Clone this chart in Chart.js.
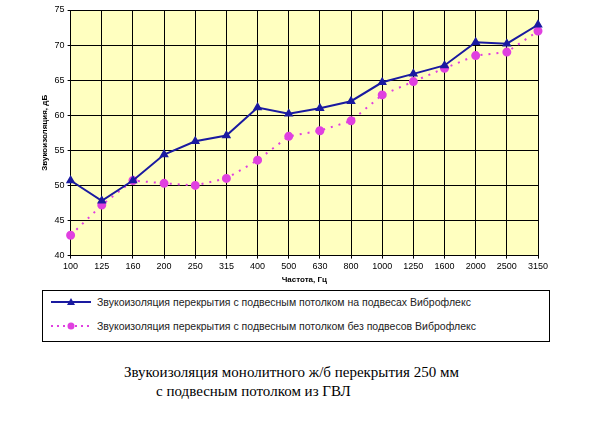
<!DOCTYPE html>
<html><head><meta charset="utf-8">
<script src="https://cdn.jsdelivr.net/npm/chart.js@4"></script>
<style>
body{margin:0;background:#fff;width:600px;height:435px;position:relative;font-family:Arial,"Liberation Sans",sans-serif}
#wrap{position:absolute;left:0;top:0;width:600px;height:285px}
#legend{position:absolute;left:42px;top:290px;width:506px;height:50px;border:1px solid #000;font-size:10.5px;color:#222}
.item{position:absolute;left:8px;display:flex;align-items:center}
#cap{position:absolute;left:0;top:363px;width:600px;font-family:"Liberation Serif","DejaVu Serif",serif;font-size:15px;line-height:19px;color:#000}
</style></head><body>
<div id="wrap"><canvas id="c" width="600" height="285"></canvas></div>
<div id="legend">
<div class="item" style="top:5px"><svg width="40" height="10"><line x1="0" y1="5" x2="40" y2="5" stroke="#1a1aa0" stroke-width="2"/><polygon points="20,1 24,8 16,8" fill="#1a1aa0"/></svg><span style="margin-left:6px">Звукоизоляция перекрытия с подвесным потолком на подвесах Виброфлекс</span></div>
<div class="item" style="top:29px"><svg width="40" height="10"><line x1="0" y1="5" x2="40" y2="5" stroke="#e040e0" stroke-width="2" stroke-dasharray="2,4"/><circle cx="20" cy="5" r="3.5" fill="#e040e0"/></svg><span style="margin-left:6px">Звукоизоляция перекрытия с подвесным потолком без подвесов Виброфлекс</span></div>
</div>
<div id="cap"><div style="padding-left:124px">Звукоизоляция монолитного ж/б перекрытия 250 мм</div><div style="padding-left:156px">с подвесным потолком из ГВЛ</div></div>
<script>
const categories=["100","125","160","200","250","315","400","500","630","800","1000","1250","1600","2000","2500","3150"];
const withMounts=[50.7,47.8,50.7,54.4,56.3,57.1,61.1,60.2,61,62,64.7,65.9,67.1,70.4,70.2,72.9];
const withoutMounts=[42.9,47.2,50.7,50.3,50,51,53.6,57,57.8,59.2,62.9,64.8,66.7,68.5,69,72];
const bg={id:'bg',beforeDraw(ch){const a=ch.chartArea,x=ch.ctx;x.save();x.fillStyle='#ffffc0';x.fillRect(a.left,a.top,a.right-a.left,a.bottom-a.top);x.restore();}};
new Chart(document.getElementById('c'),{type:'line',
data:{labels:categories,datasets:[
{data:withMounts,borderColor:'#1a1aa0',backgroundColor:'#1a1aa0',borderWidth:2,pointStyle:'triangle',pointRadius:3.5,tension:0},
{data:withoutMounts,borderColor:'#e040e0',backgroundColor:'#e040e0',borderWidth:2,borderDash:[2,6],pointStyle:'circle',pointRadius:3.5,tension:0}]},
options:{responsive:false,animation:false,devicePixelRatio:1,
layout:{padding:{top:10,right:62,left:38}},
plugins:{legend:{display:false},tooltip:{enabled:false}},
scales:{
x:{offset:false,grid:{color:'#000',lineWidth:1,drawTicks:true,tickLength:3},border:{color:'#000'},ticks:{color:'#000',font:{size:9},maxRotation:0,autoSkip:false},title:{display:true,text:'Частота, Гц',color:'#000',font:{size:8,weight:'bold'},padding:0}},
y:{min:40,max:75,grid:{color:'#000',lineWidth:1,tickLength:3},border:{color:'#000'},ticks:{stepSize:5,color:'#000',font:{size:9}},title:{display:true,text:'Звукоизоляция, дБ',color:'#000',font:{size:8,weight:'bold'},padding:2}}}},
plugins:[bg]});
</script>
</body></html>
